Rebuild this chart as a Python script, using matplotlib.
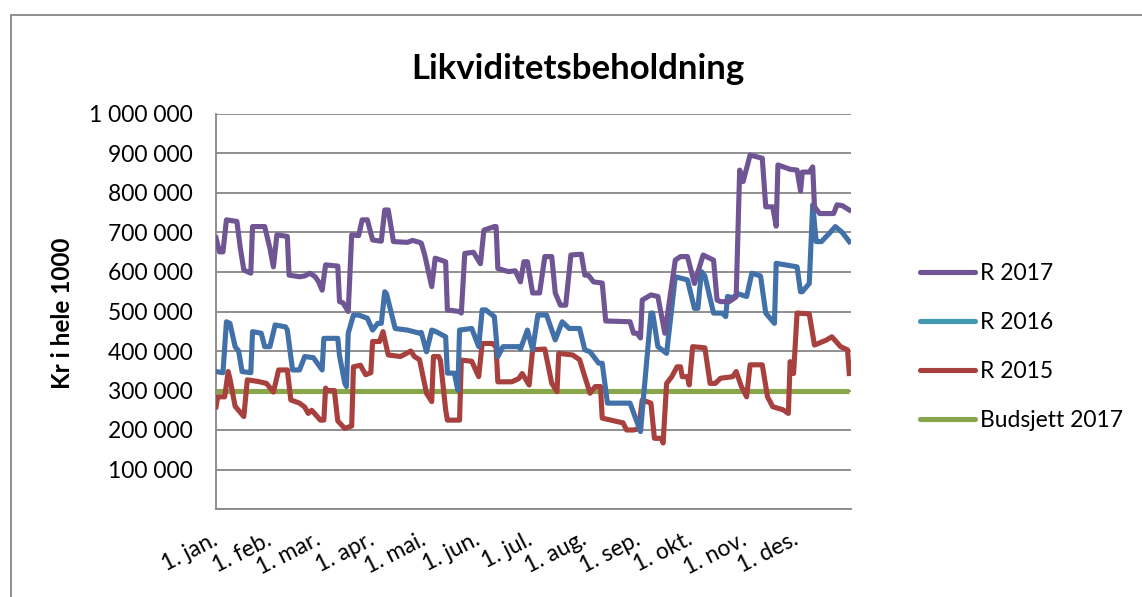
import matplotlib
matplotlib.use("Agg")
import matplotlib.pyplot as plt
from matplotlib.lines import Line2D
from matplotlib.patches import Rectangle
from matplotlib.ticker import FuncFormatter, FixedLocator

plt.rcParams['font.family'] = ['Lato', 'DejaVu Sans']

# ---------------- data (day of year, value in kr) ----------------
r2017_days = [0, 2, 4, 6, 12, 14, 16, 20, 21, 28, 31, 33, 35, 41, 42, 48, 51, 54, 57, 59, 61, 63,
              70, 71, 73, 76, 78, 82, 84, 87, 90, 95, 97, 99, 102, 110, 113, 117, 118, 120, 124,
              126, 132, 133, 140, 141, 143, 148, 152, 154, 160, 161, 162, 168, 172, 175, 177,
              179, 182, 186, 189, 193, 195, 198, 201, 204, 210, 212, 214, 217, 222, 224, 238,
              240, 242, 244, 245, 250, 254, 258, 264, 267, 271, 275, 280, 286, 288, 290, 295,
              299, 301, 303, 307, 314, 316, 320, 322, 323, 330, 334, 336, 337, 341, 343, 344,
              347, 355, 357, 360, 364]
r2017_vals = [686, 651, 651, 732, 728, 660, 605, 597, 715, 715, 660, 613, 694, 690, 592, 588, 590,
              597, 588, 575, 554, 618, 615, 525, 522, 500, 694, 692, 732, 732, 681, 678, 757, 757,
              677, 675, 680, 675, 673, 643, 563, 635, 626, 504, 500, 496, 647, 650, 621, 706, 715,
              715, 609, 601, 603, 575, 626, 626, 547, 547, 639, 639, 547, 516, 516, 643, 645, 592,
              592, 575, 572, 476, 474, 445, 445, 433, 529, 542, 538, 445, 630, 639, 639, 571, 643,
              630, 529, 525, 525, 537, 858, 829, 896, 888, 765, 765, 716, 871, 860, 858, 805, 853,
              853, 866, 765, 748, 748, 770, 768, 757]

r2016_days = [0, 4, 6, 8, 11, 13, 15, 20, 21, 26, 28, 31, 34, 40, 41, 44, 48, 51, 56, 61, 62, 70,
              71, 74, 75, 76, 79, 82, 87, 90, 93, 95, 97, 98, 103, 110, 117, 118, 121, 124, 126,
              132, 133, 137, 139, 140, 147, 151, 153, 155, 160, 162, 165, 174, 175, 179, 182, 185,
              190, 195, 199, 203, 209, 212, 215, 220, 222, 225, 238, 244, 250, 251, 254, 259, 264,
              271, 275, 277, 279, 281, 286, 291, 293, 294, 297, 300, 305, 308, 313, 316, 321, 322,
              334, 336, 337, 341, 343, 345, 348, 353, 356, 360, 364]
r2016_vals = [348, 345, 474, 470, 411, 400, 348, 345, 449, 445, 411, 411, 466, 461, 453, 352, 352,
              386, 383, 352, 432, 432, 388, 319, 310, 445, 491, 491, 483, 453, 470, 470, 550, 545,
              457, 453, 445, 447, 398, 453, 450, 436, 344, 344, 301, 453, 457, 411, 504, 504, 487,
              386, 411, 411, 405, 453, 403, 491, 491, 428, 474, 457, 457, 403, 398, 369, 369, 268,
              268, 196, 496, 496, 411, 394, 588, 580, 508, 508, 601, 590, 496, 496, 487, 538, 535,
              545, 538, 597, 590, 496, 470, 622, 613, 550, 550, 571, 770, 677, 677, 700, 715, 700,
              677]

r2015_days = [0, 1, 5, 7, 8, 11, 16, 18, 24, 29, 33, 36, 41, 43, 48, 51, 53, 55, 60, 62, 63, 64,
              68, 70, 74, 78, 79, 83, 86, 89, 90, 94, 96, 99, 106, 112, 114, 117, 121, 124, 125,
              128, 129, 132, 133, 140, 141, 147, 151, 153, 159, 161, 162, 170, 174, 176, 180, 182,
              189, 193, 196, 197, 205, 209, 212, 215, 218, 221, 222, 230, 234, 236, 240, 243, 245,
              250, 252, 256, 257, 259, 262, 265, 267, 268, 271, 272, 274, 281, 284, 287, 290, 297,
              299, 302, 305, 307, 314, 317, 320, 326, 329, 330, 332, 334, 341, 344, 351, 354, 359,
              363, 364]
r2015_vals = [259, 284, 284, 348, 330, 260, 234, 327, 323, 318, 296, 352, 352, 276, 268, 258, 242,
              250, 225, 225, 306, 300, 300, 223, 204, 210, 360, 364, 340, 345, 424, 424, 449, 390,
              386, 400, 386, 378, 293, 272, 386, 386, 376, 251, 225, 225, 377, 374, 335, 419, 419,
              410, 322, 322, 330, 343, 314, 403, 405, 318, 297, 394, 390, 378, 335, 293, 310, 310,
              230, 222, 218, 200, 200, 203, 276, 268, 179, 179, 167, 318, 335, 360, 360, 335, 335,
              314, 411, 408, 318, 318, 331, 335, 348, 310, 284, 365, 365, 284, 259, 251, 242, 373,
              343, 496, 494, 415, 428, 436, 411, 403, 343]

budget_days = [0, 364]
budget_vals = [300, 300]

series_names = ["R 2017", "R 2016", "R 2015", "Budsjett 2017"]
month_starts = [0, 31, 59, 90, 120, 151, 181, 212, 243, 273, 304, 334]
month_labels = ["1. jan.", "1. feb.", "1. mar.", "1. apr.", "1. mai.", "1. jun.",
                "1. jul.", "1. aug.", "1. sep.", "1. okt.", "1. nov.", "1. des."]
y_ticks = [0, 100000, 200000, 300000, 400000, 500000, 600000, 700000, 800000, 900000, 1000000]

# ---------------- styling ----------------
W, H = 1142, 597
fig = plt.figure(figsize=(W / 100, H / 100), dpi=100)
ax = fig.add_axes([216 / W, (H - 509) / H, (851 - 216) / W, (509 - 114) / H])

c2017 = '#6F5593'
c2016 = '#4171A8'
c2015 = '#A8413E'
cbud = '#89A64C'
c2016_leg = '#4198AF'
grey = '#878787'

lw = 3.7
ax.plot(budget_days, [v * 1000 for v in budget_vals], color=cbud, lw=lw, solid_capstyle='butt', zorder=3)
ax.plot(r2015_days, [v * 1000 for v in r2015_vals], color=c2015, lw=lw, zorder=4, solid_joinstyle='round')
ax.plot(r2016_days, [v * 1000 for v in r2016_vals], color=c2016, lw=lw, zorder=5, solid_joinstyle='round')
ax.plot(r2017_days, [v * 1000 for v in r2017_vals], color=c2017, lw=lw, zorder=6, solid_joinstyle='round')

ax.set_xlim(0, 365)
ax.set_ylim(0, 1000000)
ax.yaxis.set_major_locator(FixedLocator(y_ticks))
ax.yaxis.set_major_formatter(FuncFormatter(lambda v, p: '' if v == 0 else f"{int(v):,}".replace(',', ' ')))
ax.set_xticks(month_starts)
ax.set_xticklabels(month_labels, rotation=27, ha='right', va='center', rotation_mode='anchor')
ax.tick_params(axis='both', length=0, labelsize=16.5, colors='black')
ax.tick_params(axis='y', pad=17)
ax.tick_params(axis='x', pad=21)
ax.grid(axis='y', color=grey, lw=1.3, zorder=1)
ax.set_axisbelow(True)
for s in ['top', 'right']:
    ax.spines[s].set_visible(False)
for s in ['left', 'bottom']:
    ax.spines[s].set_color(grey)
    ax.spines[s].set_linewidth(1.3)

fig.text(578 / W, 1 - 69 / H, "Likviditetsbeholdning", ha='center', va='center',
         fontsize=25, fontweight='bold')
fig.text(63 / W, 1 - 313 / H, "Kr i hele 1000", ha='center', va='center', rotation=90,
         fontsize=17.5, fontweight='bold')

handles = [Line2D([], [], color=c, lw=lw, solid_capstyle='round')
           for c in [c2017, c2016_leg, c2015, cbud]]
fig.legend(handles, series_names, loc='center left', bbox_to_anchor=(899 / W, 1 - 347 / H),
           frameon=False, fontsize=16.5, handlelength=2.4, handletextpad=0.25, labelspacing=1.22)

fig.patches.append(Rectangle((11 / W, -0.1), 2, 1.1 - 15 / H, transform=fig.transFigure,
                             fill=False, edgecolor=grey, lw=1.3))

fig.savefig("out.png", dpi=100, facecolor='white')
